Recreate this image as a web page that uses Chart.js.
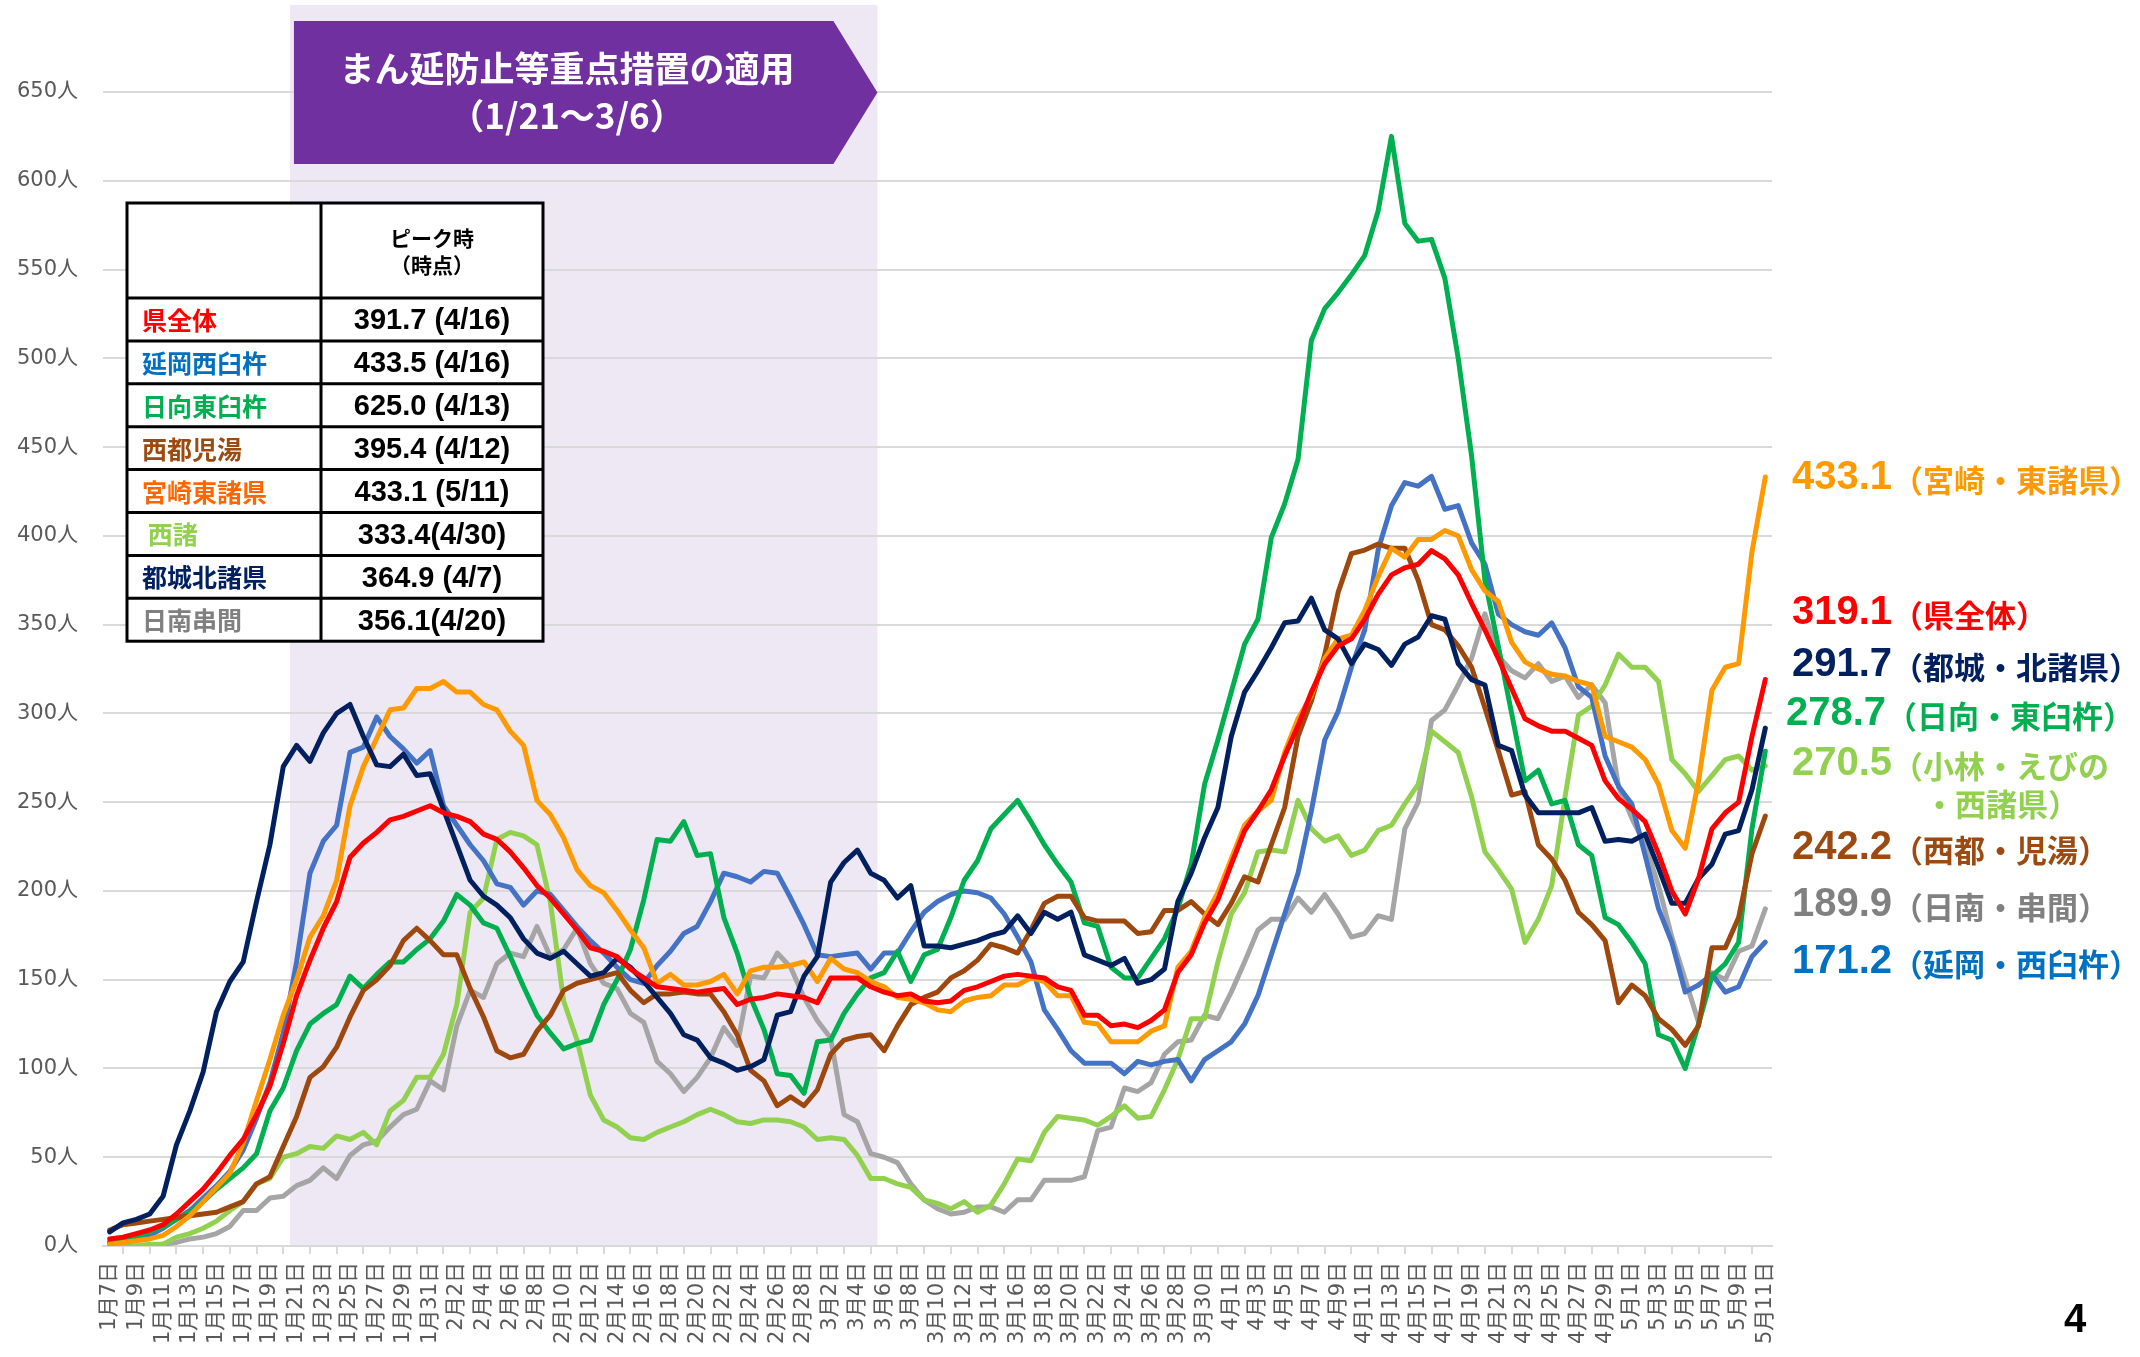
<!DOCTYPE html>
<html lang="ja">
<head>
<meta charset="utf-8">
<title>地域別 新規感染者数の推移</title>
<script src="https://cdn.jsdelivr.net/npm/chart.js@4.4.1/dist/chart.umd.min.js"></script>
<style>
	html, body { margin: 0; padding: 0; background: #fff; }
	canvas { display: block; }
</style>
</head>
<body>
<canvas id="trendChart" width="2140" height="1357"></canvas>
<script>
// Date categories: 1/7 .. 5/11
const monthRanges = [ [ 1, 7, 31 ], [ 2, 1, 28 ], [ 3, 1, 31 ], [ 4, 1, 30 ], [ 5, 1, 11 ] ];
const dateLabels = [];
monthRanges.forEach( ( [ m, from, to ] ) => {
	for ( let d = from; d <= to; d++ ) {
		dateLabels.push( `${ m }月${ d }日` );
	}
} );

// Y axis ticks
const yMax = 650;
const yStep = 50;

// Priority measures period
const periodStart = '1月21日';
const periodEnd = '3月6日';
const periodTitle = 'まん延防止等重点措置の適用';
const periodRange = '（1/21～3/6）';

// Series values (per day)
const kenZentai = [
	4, 5, 7, 9, 12, 18, 25, 32, 41, 51,
	60, 74, 90, 114, 141, 161, 179, 194, 219, 227,
	233, 240, 242, 245, 248, 244, 242, 239, 232, 229,
	222, 213, 203, 196, 187, 178, 168, 166, 163, 156,
	151, 146, 145, 144, 143, 144, 145, 136, 139, 140,
	142, 141, 140, 137, 151, 151, 151, 146, 143, 141,
	142, 138, 137, 138, 144, 146, 149, 152, 153, 152,
	151, 146, 144, 130, 130, 124, 125, 123, 127, 133,
	154, 164, 182, 195, 215, 234, 245, 257, 276, 293,
	312, 328, 338, 342, 353, 367, 378, 382, 384, 391.7,
	387, 378, 362, 347, 331, 314, 297, 293, 290, 290,
	286, 282, 262, 252, 246, 239, 221, 200, 187, 207,
	235, 244, 250, 287, 319.1,
];
const nobeoka = [
	2, 3, 4, 6, 10, 15, 20, 27, 34, 42,
	54, 72, 92, 120, 160, 210, 228, 237, 278, 281,
	298, 287, 280, 272, 279, 248, 237, 226, 217, 204,
	202, 192, 200, 198, 189, 180, 172, 165, 157, 150,
	148, 158, 166, 176, 180, 194, 210, 208, 205, 211,
	210, 196, 181, 164, 163, 164, 165, 156, 165, 165,
	177, 188, 194, 198, 200, 199, 196, 187, 174, 160,
	133, 122, 110, 103, 103, 103, 97, 104, 102, 104,
	105, 93, 105, 110, 115, 125, 141, 164, 187, 210,
	245, 285, 301, 326, 347, 392, 417, 430, 428, 433.5,
	415, 417, 396, 384, 356, 350, 346, 344, 351, 337,
	315, 309, 276, 259, 249, 220, 190, 171, 143, 147,
	153, 143, 146, 163, 171.2,
];
const hyuga = [
	2, 3, 5, 8, 11, 15, 19, 25, 32, 38,
	44, 52, 76, 89, 110, 125, 131, 136, 152, 145,
	153, 160, 160, 167, 173, 183, 198, 192, 182, 179,
	163, 146, 130, 120, 111, 114, 116, 136, 150, 167,
	195, 229, 228, 239, 220, 221, 185, 165, 140, 122,
	97, 96, 86, 115, 116, 131, 142, 151, 154, 166,
	149, 164, 167, 185, 206, 217, 235, 243, 251, 239,
	226, 215, 205, 182, 180, 157, 151, 151, 162, 173,
	190, 215, 260, 285, 312, 339, 353, 399, 418, 443,
	510, 528, 537, 547, 558, 583, 625, 576, 566, 567,
	545, 500, 445, 375, 338, 300, 262, 268, 249, 251,
	226, 220, 185, 181, 171, 159, 119, 116, 100, 125,
	152, 159, 171, 235, 278.7,
];
const saito = [
	9, 12, 13, 14, 15, 16, 17, 18, 19, 22,
	25, 35, 39, 56, 73, 95, 101, 112, 129, 144,
	150, 158, 172, 179, 172, 164, 164, 145, 129, 110,
	106, 108, 121, 130, 144, 148, 150, 152, 154, 144,
	137, 142, 142, 143, 142, 142, 132, 119, 99, 93,
	79, 84, 79, 88, 108, 116, 118, 119, 110, 124,
	136, 140, 143, 151, 155, 161, 170, 168, 165, 178,
	193, 197, 197, 185, 183, 183, 183, 176, 177, 189,
	189, 194, 187, 181, 193, 208, 205, 226, 247, 287,
	307, 333, 368, 390, 392, 395.4, 393, 393, 375, 350,
	347, 338, 326, 303, 279, 254, 256, 226, 218, 206,
	188, 181, 172, 137, 147, 141, 128, 122, 113, 124,
	168, 168, 185, 221, 242.2,
];
const miyazaki = [
	1, 2, 3, 4, 6, 11, 17, 25, 33, 41,
	58, 82, 105, 130, 150, 174, 186, 206, 248, 270,
	286, 302, 303, 314, 314, 318, 312, 312, 305, 302,
	290, 282, 251, 243, 230, 212, 203, 199, 189, 178,
	168, 148, 153, 147, 147, 149, 153, 142, 155, 157,
	157, 158, 160, 149, 162, 156, 154, 149, 146, 140,
	139, 137, 133, 132, 138, 140, 141, 147, 147, 151,
	149, 141, 141, 126, 125, 115, 115, 115, 121, 124,
	157, 166, 185, 199, 218, 237, 245, 251, 278, 297,
	310, 331, 342, 344, 358, 377, 393, 388, 398, 398,
	403, 400, 381, 369, 363, 340, 329, 325, 322, 321,
	318, 316, 287, 284, 281, 274, 260, 234, 224, 262,
	313, 326, 328, 391, 433.1,
];
const nishimoro = [
	0, 0, 0, 1, 1, 5, 7, 10, 14, 20,
	25, 35, 38, 50, 52, 56, 55, 62, 60, 64,
	57, 76, 82, 95, 95, 108, 136, 188, 196, 229,
	233, 231, 226, 194, 138, 116, 85, 71, 67, 61,
	60, 64, 67, 70, 74, 77, 74, 70, 69, 71,
	71, 70, 67, 60, 61, 60, 51, 38, 38, 35,
	33, 26, 24, 21, 25, 19, 23, 35, 49, 48,
	64, 73, 72, 71, 68, 73, 79, 72, 73, 88,
	105, 128, 128, 160, 187, 199, 222, 223, 222, 251,
	235, 228, 231, 220, 223, 234, 237, 249, 260, 290,
	284, 278, 253, 222, 212, 201, 171, 184, 203, 253,
	299, 304, 316, 333.4, 326, 326, 318, 274, 266, 256,
	265, 274, 276, 268, 270.5,
];
const miyakonojo = [
	8, 13, 15, 18, 28, 57, 76, 98, 132, 149,
	160, 194, 226, 270, 282, 273, 289, 300, 305, 287,
	271, 270, 277, 265, 266, 246, 226, 206, 197, 192,
	185, 173, 165, 162, 166, 159, 152, 154, 162, 157,
	149, 140, 131, 119, 116, 106, 103, 99, 101, 105,
	130, 132, 152, 163, 205, 216, 223, 210, 206, 196,
	203, 169, 169, 168, 170, 172, 175, 177, 186, 176,
	188, 184, 188, 164, 161, 158, 162, 148, 150, 156,
	194, 210, 230, 247, 287, 312, 324, 337, 351, 352,
	364.9, 347, 342, 328, 339, 336, 327, 339, 343, 355,
	353, 328, 319, 316, 282, 279, 254, 244, 244, 244,
	244, 247, 228, 229, 228, 232, 213, 193, 193, 207,
	215, 232, 234, 257, 291.7,
];
const nichinan = [
	0, 0, 0, 0, 1, 2, 4, 5, 7, 11,
	20, 20, 27, 28, 34, 37, 44, 38, 51, 57,
	59, 67, 74, 77, 93, 88, 124, 144, 140, 159,
	165, 163, 180, 163, 167, 179, 159, 148, 145, 131,
	126, 104, 97, 87, 95, 106, 123, 113, 152, 151,
	165, 157, 140, 127, 117, 74, 70, 52, 50, 47,
	35, 26, 21, 18, 19, 22, 22, 19, 26, 26,
	37, 37, 37, 39, 65, 67, 89, 87, 92, 108,
	115, 116, 130, 128, 143, 160, 178, 184, 184, 196,
	188, 198, 187, 174, 176, 186, 184, 235, 250, 296,
	302, 316, 331, 356.1, 332, 324, 320, 328, 318, 321,
	309, 316, 306, 259, 241, 226, 203, 174, 150, 126,
	154, 150, 166, 169, 189.9,
];

// Peak table
const tableHeader = [ 'ピーク時', '（時点）' ];
const tableNames = [ '県全体', '延岡西臼杵', '日向東臼杵', '西都児湯', '宮崎東諸県', ' 西諸', '都城北諸県', '日南串間' ];
const tablePeaks = [ '391.7 (4/16)', '433.5 (4/16)', '625.0 (4/13)', '395.4 (4/12)', '433.1 (5/11)', '333.4(4/30)', '364.9 (4/7)', '356.1(4/20)' ];
const tableColors = [ '#FF0000', '#0070C0', '#00B050', '#9C4A10', '#FF6600', '#92D050', '#002060', '#808080' ];

// End-of-line labels
const endNames = [ '（宮崎・東諸県）', '（県全体）', '（都城・北諸県）', '（日向・東臼杵）', '（小林・えびの', '（西都・児湯）', '（日南・串間）', '（延岡・西臼杵）' ];
const endSeries = [ miyazaki, kenZentai, miyakonojo, hyuga, nishimoro, saito, nichinan, nobeoka ];
const endColors = [ '#FF9900', '#FF0000', '#002060', '#00B050', '#92D050', '#9C4A10', '#808080', '#0070C0' ];
const endExtraLine = '・西諸県）';
const pageNumber = '4';

const CJK = '"Noto Sans CJK JP"';
const NUM = '"Liberation Sans", "Noto Sans CJK JP"';

function drawPeriodShade( chart ) {
	const { ctx, chartArea } = chart;
	const x = chart.scales.x;
	const half = ( x.getPixelForValue( 1 ) - x.getPixelForValue( 0 ) ) / 2;
	const x0 = x.getPixelForValue( dateLabels.indexOf( periodStart ) ) - half;
	const x1 = x.getPixelForValue( dateLabels.indexOf( periodEnd ) ) - half;
	ctx.fillStyle = '#EDE8F4';
	ctx.fillRect( x0, 5, x1 - x0, chartArea.bottom - 5 );
}

function drawBanner( chart ) {
	const { ctx } = chart;
	const x = chart.scales.x;
	const half = ( x.getPixelForValue( 1 ) - x.getPixelForValue( 0 ) ) / 2;
	const x0 = x.getPixelForValue( dateLabels.indexOf( periodStart ) ) - half + 4;
	const tip = x.getPixelForValue( dateLabels.indexOf( periodEnd ) ) - half;
	const top = 21;
	const bottom = 164;
	ctx.fillStyle = '#7030A0';
	ctx.beginPath();
	ctx.moveTo( x0, top );
	ctx.lineTo( tip - 44, top );
	ctx.lineTo( tip, ( top + bottom ) / 2 );
	ctx.lineTo( tip - 44, bottom );
	ctx.lineTo( x0, bottom );
	ctx.closePath();
	ctx.fill();
	ctx.fillStyle = '#fff';
	ctx.font = `bold 35px ${ CJK }`;
	ctx.textAlign = 'center';
	ctx.textBaseline = 'middle';
	ctx.fillText( periodTitle, 567, 69 );
	ctx.fillText( periodRange, 567, 116 );
}

function drawTable( chart ) {
	const { ctx } = chart;
	const left = 127;
	const mid = 321;
	const right = 543;
	const top = 203;
	const headH = 95;
	const rowH = 42.9;
	const bottom = top + headH + rowH * tableNames.length;

	ctx.fillStyle = '#fff';
	ctx.fillRect( left, top, right - left, bottom - top );
	ctx.strokeStyle = '#000';
	ctx.lineWidth = 3;
	ctx.strokeRect( left, top, right - left, bottom - top );
	ctx.beginPath();
	ctx.moveTo( mid, top );
	ctx.lineTo( mid, bottom );
	for ( let i = 0; i < tableNames.length; i++ ) {
		const y = top + headH + rowH * i;
		ctx.moveTo( left, y );
		ctx.lineTo( right, y );
	}
	ctx.stroke();

	ctx.textBaseline = 'middle';
	ctx.textAlign = 'center';
	ctx.fillStyle = '#000';
	ctx.font = `bold 21px ${ CJK }`;
	ctx.fillText( tableHeader[ 0 ], ( mid + right ) / 2, top + 35 );
	ctx.fillText( tableHeader[ 1 ], ( mid + right ) / 2, top + 62 );

	tableNames.forEach( ( name, i ) => {
		const cy = top + headH + rowH * ( i + 0.5 ) + 1;
		ctx.textAlign = 'left';
		ctx.fillStyle = tableColors[ i ];
		ctx.font = `bold 25px ${ CJK }`;
		ctx.fillText( name, 142, cy );
		ctx.textAlign = 'center';
		ctx.fillStyle = '#000';
		ctx.font = `bold 29px ${ NUM }`;
		ctx.fillText( tablePeaks[ i ], ( mid + right ) / 2, cy + 1 );
	} );
}

function drawEndLabels( chart ) {
	const { ctx } = chart;
	const ys = [ 478, 613, 665, 714, 764, 848, 905, 962 ];
	ctx.textBaseline = 'middle';
	ctx.textAlign = 'left';
	endSeries.forEach( ( series, i ) => {
		const value = series[ series.length - 1 ].toFixed( 1 );
		const x = i === 3 ? 1786 : 1792;
		ctx.fillStyle = endColors[ i ];
		ctx.font = `bold 40px ${ NUM }`;
		ctx.fillText( value, x, ys[ i ] );
		const w = ctx.measureText( value ).width;
		ctx.font = `bold 31px ${ CJK }`;
		ctx.fillText( endNames[ i ], x + w, ys[ i ] + 2 );
		if ( i === 4 ) {
			ctx.fillText( endExtraLine, 1924, 804 );
		}
	} );
}

const overlayPlugin = {
	id: 'overlay',
	beforeDraw( chart ) {
		const { ctx } = chart;
		ctx.save();
		ctx.fillStyle = '#fff';
		ctx.fillRect( 0, 0, chart.width, chart.height );
		drawPeriodShade( chart );
		ctx.restore();
	},
	afterDraw( chart ) {
		const { ctx } = chart;
		ctx.save();
		drawBanner( chart );
		drawTable( chart );
		drawEndLabels( chart );
		ctx.fillStyle = '#000';
		ctx.font = `bold 40px ${ NUM }`;
		ctx.textAlign = 'center';
		ctx.textBaseline = 'middle';
		ctx.fillText( pageNumber, 2075, 1321 );
		ctx.restore();
	},
};

function line( label, data, color ) {
	return {
		label,
		data,
		borderColor: color,
		backgroundColor: color,
		borderWidth: 5,
		pointRadius: 0,
		tension: 0,
		borderJoinStyle: 'round',
		borderCapStyle: 'round',
		fill: false,
	};
}

new Chart( document.getElementById( 'trendChart' ).getContext( '2d' ), {
	type: 'line',
	data: {
		labels: dateLabels,
		datasets: [
			line( '県全体', kenZentai, '#FF0000' ),
			line( '都城北諸県', miyakonojo, '#002060' ),
			line( '宮崎東諸県', miyazaki, '#FF9900' ),
			line( '西都児湯', saito, '#9E480E' ),
			line( '日向東臼杵', hyuga, '#00B050' ),
			line( '延岡西臼杵', nobeoka, '#4472C4' ),
			line( '西諸', nishimoro, '#92D050' ),
			line( '日南串間', nichinan, '#A5A5A5' ),
		],
	},
	options: {
		responsive: false,
		animation: false,
		layout: { padding: { top: 92, right: 368, left: 0, bottom: 0 } },
		plugins: {
			legend: { display: false },
			tooltip: { enabled: false },
		},
		scales: {
			x: {
				offset: true,
				grid: {
					offset: true,
					drawOnChartArea: false,
					drawTicks: true,
					tickLength: 8,
					color: '#D9D9D9',
					lineWidth: 2,
				},
				border: { color: '#D9D9D9', width: 2 },
				ticks: {
					autoSkip: false,
					minRotation: 90,
					maxRotation: 90,
					padding: 8,
					color: '#595959',
					font: { family: '"DejaVu Sans", "Noto Sans CJK JP"', size: 21 },
					callback: ( v, i ) => ( i % 2 === 0 ? dateLabels[ i ] : null ),
				},
				afterFit: ( scale ) => {
					scale.height = 111;
				},
			},
			y: {
				min: 0,
				max: yMax,
				grid: { color: '#D9D9D9', lineWidth: 2, drawTicks: false },
				border: { display: false },
				ticks: {
					stepSize: yStep,
					padding: 25,
					color: '#595959',
					font: { family: '"DejaVu Sans", "Noto Sans CJK JP"', size: 21 },
					callback: ( v ) => `${ v }人`,
				},
				afterFit: ( scale ) => {
					scale.width = 103;
				},
			},
		},
	},
	plugins: [ overlayPlugin ],
} );
</script>
</body>
</html>
